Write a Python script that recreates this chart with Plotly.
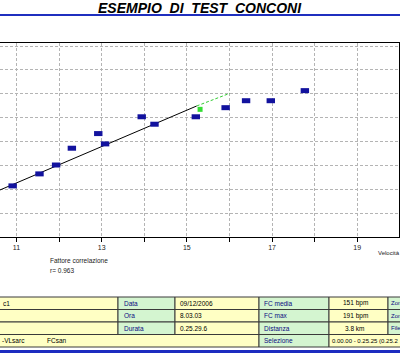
import plotly.graph_objects as go

# ---- data ----
speed = [10.91, 11.54, 11.93, 12.30, 12.92, 13.08, 13.94, 14.24, 15.21, 15.91, 16.39, 16.97, 17.77]
hr = [131.7, 136.7, 140.4, 147.4, 153.5, 149.2, 160.5, 157.4, 160.5, 164.3, 167.2, 167.2, 171.4]
defl_speed = [15.31]
defl_hr = [163.6]
reg_x = [10.613, 15.23]
reg_y = [130.0, 165.0]
ext_x = [15.23, 16.01]
ext_y = [165.0, 170.3]
x_ticks = [11, 12, 13, 14, 15, 16, 17, 18, 19]
x_ticktext = ["11", "", "13", "", "15", "", "17", "", "19"]
y_grid = [120, 130, 140, 150, 160, 170, 180, 190]

title_text = "ESEMPIO  DI  TEST  CONCONI"
corr_label = "Fattore correlazione"
corr_value = "r= 0.963"
x_label = "Velocità"

# table content
rows_left = ["c1", "", ""]
lab1 = ["Data", "Ora", "Durata"]
val1 = ["09/12/2006", "8.03.03", "0.25.29.6"]
lab2 = ["FC media", "FC max", "Distanza", "Selezione"]
val2 = ["151 bpm", "191 bpm", "3.8 km", "0.00.00 - 0.25.25 (0.25.2"]
lab3 = ["Zon", "Zon", "File"]
row4_texts = ["-VLsarc", "FCsan"]

W, H = 400, 357
ML, MR, MT, MB = 0, 1, 43, 120
PW = W - ML - MR
PH = H - MT - MB


def px(x):
    return (x - ML) / PW


def py(y):
    return (H - MB - y) / PH


YEL = "#FFFFC4"
GRN = "#D4F5D0"
LBL = "#0A0A80"

fig = go.Figure()
fig.add_trace(go.Scatter(x=reg_x, y=reg_y, mode="lines",
                         line=dict(color="black", width=1), hoverinfo="skip"))
fig.add_trace(go.Scatter(x=ext_x, y=ext_y, mode="lines",
                         line=dict(color="#33CC33", width=1, dash="3px,2px"), hoverinfo="skip"))
fig.add_trace(go.Scatter(x=speed, y=hr, mode="markers",
                         marker=dict(symbol="line-ew", size=6,
                                     line=dict(width=5, color="#12129E"))))
fig.add_trace(go.Scatter(x=defl_speed, y=defl_hr, mode="markers",
                         marker=dict(symbol="square", size=5, color="#33DD33",
                                     line=dict(width=0))))

shapes = []
annotations = []

# title and blue lines
annotations.append(dict(text="<b><i>" + title_text + "</i></b>", x=px(200), y=py(7.5),
                        xref="paper", yref="paper", showarrow=False,
                        font=dict(family="Liberation Sans, Arial", size=14, color="black"),
                        xanchor="center", yanchor="middle"))
shapes.append(dict(type="line", xref="paper", yref="paper", x0=px(0), x1=px(400),
                   y0=py(15), y1=py(15), line=dict(color="#1F2FBF", width=2)))
shapes.append(dict(type="line", xref="paper", yref="paper", x0=px(0), x1=px(400),
                   y0=py(351.5), y1=py(351.5), line=dict(color="#1C2CC0", width=3)))

# annotations under plot
small = dict(family="Liberation Sans, Arial", size=6.5, color="#222222")
annotations.append(dict(text=corr_label, x=px(48), y=py(260), xref="paper", yref="paper",
                        showarrow=False, xanchor="left", yanchor="middle", font=small))
annotations.append(dict(text=corr_value, x=px(48), y=py(270), xref="paper", yref="paper",
                        showarrow=False, xanchor="left", yanchor="middle", font=small))
annotations.append(dict(text=x_label, x=px(376), y=py(253), xref="paper", yref="paper",
                        showarrow=False, xanchor="left", yanchor="middle",
                        font=dict(family="Liberation Sans, Arial", size=6, color="#222222")))

# table
row_edges = [297, 309.5, 322, 334.5, 347]
col_edges = [-2, 118, 175, 259, 329, 388, 420]
col_fill = [YEL, GRN, YEL, GRN, YEL, GRN]


def cell(x0, x1, y0, y1, fill):
    shapes.append(dict(type="rect", xref="paper", yref="paper",
                       x0=px(x0), x1=px(x1), y0=py(y0), y1=py(y1),
                       fillcolor=fill, line=dict(color="#3A3A3A", width=1), layer="above"))


def txt(t, x, y, color="black", anchor="left", size=6.5):
    if not t:
        return
    annotations.append(dict(text=t, x=px(x), y=py(y), xref="paper", yref="paper",
                            showarrow=False, xanchor=anchor, yanchor="middle",
                            font=dict(family="Liberation Sans, Arial", size=size, color=color)))


for r in range(3):
    y0, y1 = row_edges[r], row_edges[r + 1]
    for c in range(6):
        cell(col_edges[c], col_edges[c + 1], y0, y1, col_fill[c])
    yc = (y0 + y1) / 2
    txt(rows_left[r], 1, yc)
    txt(lab1[r], 122, yc, LBL)
    txt(val1[r], 178, yc)
    txt(lab2[r], 262, yc, LBL)
    txt(val2[r], 355, yc, anchor="center")
    txt(lab3[r], 389, yc, LBL, size=6)

y0, y1 = row_edges[3], row_edges[4]
cell(-2, 259, y0, y1, YEL)
cell(259, 329, y0, y1, GRN)
cell(329, 420, y0, y1, YEL)
yc = (y0 + y1) / 2
txt(row4_texts[0], 0, yc)
txt(row4_texts[1], 45, yc)
txt(lab2[3], 262, yc, LBL)
txt(val2[3], 330, yc, size=6)

fig.update_layout(
    width=W, height=H,
    margin=dict(l=ML, r=MR, t=MT, b=MB, pad=0),
    paper_bgcolor="white", plot_bgcolor="white",
    showlegend=False,
    shapes=shapes, annotations=annotations,
    xaxis=dict(range=[10.613, 19.98], tickvals=x_ticks, ticktext=x_ticktext,
               showgrid=True, gridcolor="#B4B4B4", griddash="3px,2px", gridwidth=1,
               showline=True, linecolor="black", linewidth=1, mirror=True,
               ticks="outside", ticklen=4, tickcolor="black",
               tickfont=dict(family="Liberation Sans, Arial", size=7, color="#222222"),
               zeroline=False, fixedrange=True),
    yaxis=dict(range=[110.4, 191.25], tickvals=y_grid, side="right",
               showgrid=True, gridcolor="#B4B4B4", griddash="3px,2px", gridwidth=1,
               showline=True, linecolor="black", linewidth=1,
               showticklabels=False, ticks="", zeroline=False, fixedrange=True),
)

fig.write_html("out.html", config={"displayModeBar": False},
               post_script="document.body.style.margin='0';")
